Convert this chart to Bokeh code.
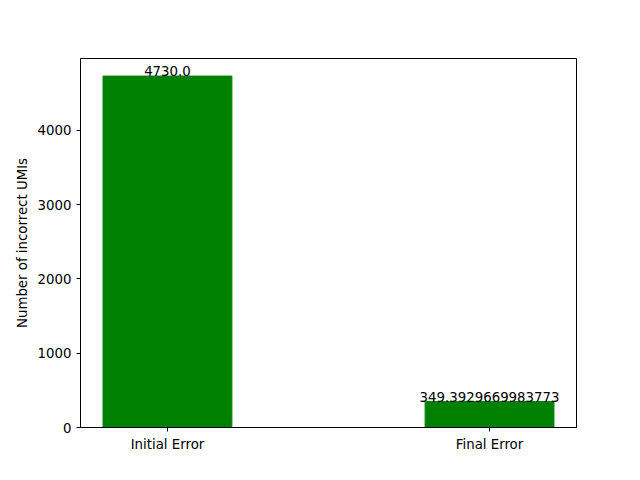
from bokeh.core.properties import value
from bokeh.embed import file_html
from bokeh.models import ColumnDataSource, FixedTicker, Range1d
from bokeh.plotting import figure
from bokeh.resources import INLINE

labels = ["Initial Error", "Final Error"]
errors = [4730.0, 349.3929669983773]
positions = [0, 1]

src = ColumnDataSource(dict(x=positions, top=errors,
                            txt=[str(v) for v in errors]))

p = figure(width=624, height=464, output_backend="svg", toolbar_location=None,
           x_range=Range1d(-0.27, 1.27), y_range=Range1d(0, 4966.5),
           min_border_left=80, min_border_right=48,
           min_border_top=58, min_border_bottom=37)
p.vbar(x="x", top="top", width=0.4, color="green", source=src)
p.text(x="x", y="top", text="txt", source=src, text_align="center",
       text_baseline="bottom", text_font=value("DejaVu Sans"),
       text_font_size="10pt", text_color="black")

p.grid.visible = False
p.outline_line_color = "black"
p.xaxis.ticker = FixedTicker(ticks=positions)
p.xaxis.major_label_overrides = {i: l for i, l in zip(positions, labels)}
p.yaxis.ticker = FixedTicker(ticks=[0, 1000, 2000, 3000, 4000])
p.yaxis.axis_label = "Number of incorrect UMIs"
for ax in (p.xaxis, p.yaxis):
    ax.major_label_text_font = "DejaVu Sans"
    ax.major_label_text_font_size = "10pt"
    ax.major_label_text_color = "black"
    ax.minor_tick_line_color = None
    ax.major_tick_in = 0
    ax.major_tick_out = 4
    ax.axis_line_color = "black"
p.yaxis.axis_label_text_font = "DejaVu Sans"
p.yaxis.axis_label_text_font_style = "normal"
p.yaxis.axis_label_text_font_size = "10pt"
p.yaxis.axis_label_text_color = "black"

open("out.html", "w").write(file_html(p, INLINE))
